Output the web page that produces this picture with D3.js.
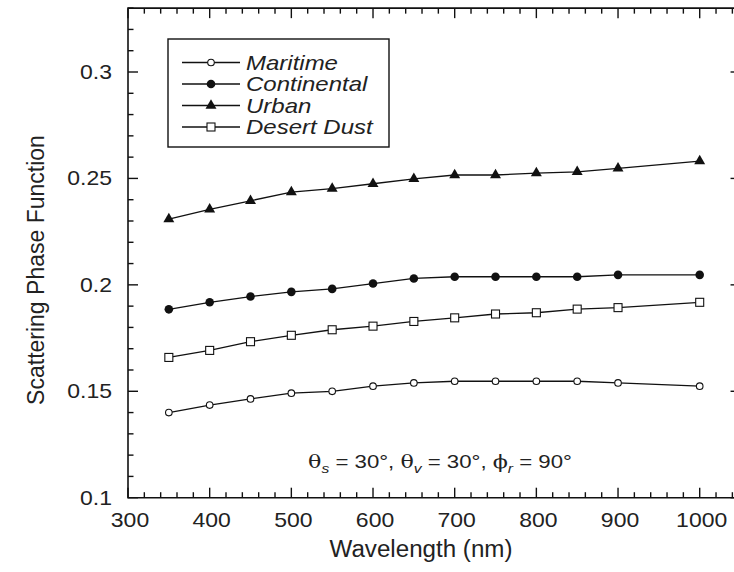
<!DOCTYPE html>
<html>
<head>
<meta charset="utf-8">
<script src="https://cdn.jsdelivr.net/npm/d3@7"></script>
<style>
  html, body { margin: 0; padding: 0; background: #fff; }
  svg { display: block; font-family: "Liberation Sans", Arial, Helvetica, sans-serif; }
</style>
</head>
<body>
<svg id="chart" width="734" height="572"></svg>
<script>
// Wavelengths (nm) at which the phase function was evaluated
const wavelengths = [350, 400, 450, 500, 550, 600, 650, 700, 750, 800, 850, 900, 1000];

// Scattering phase function per aerosol model
const maritime    = [0.1400, 0.1435, 0.1464, 0.1491, 0.1500, 0.1524, 0.1539, 0.1547, 0.1547, 0.1547, 0.1547, 0.1539, 0.1524];
const continental = [0.1885, 0.1918, 0.1945, 0.1967, 0.1981, 0.2006, 0.2030, 0.2038, 0.2038, 0.2038, 0.2038, 0.2047, 0.2047];
const urban       = [0.2309, 0.2355, 0.2395, 0.2436, 0.2452, 0.2475, 0.2498, 0.2516, 0.2516, 0.2525, 0.2531, 0.2547, 0.2581];
const desertDust  = [0.1659, 0.1692, 0.1733, 0.1763, 0.1789, 0.1806, 0.1828, 0.1845, 0.1863, 0.1869, 0.1886, 0.1893, 0.1918];

const seriesNames = ["Maritime", "Continental", "Urban", "Desert Dust"];
const seriesValues = [maritime, continental, urban, desertDust];
const markerKinds = ["openCircle", "filledCircle", "triangle", "openSquare"];

const xMajorTicks = [300, 400, 500, 600, 700, 800, 900, 1000];
const yMajorTicks = [0.1, 0.15, 0.2, 0.25, 0.3];

const svg = d3.select("#chart");
const plotLeft = 128, plotBottom = 497.7;

const x = d3.scaleLinear().domain([300, 1000]).range([plotLeft, 699.7]);
const y = d3.scaleLinear().domain([0.1, 0.3]).range([plotBottom, 72]);
const xMax = 1050, yMax = 0.33;
const plotRight = x(xMax);

const ink = "#111";
const labelColor = "#222";

// Text placed at (tx, ty) with a slight horizontal stretch, like wide Helvetica
function stretchedText(parent, tx, ty, sx) {
  const g = parent.append("g").attr("transform", `translate(${tx},${ty}) scale(${sx},1)`);
  return g.append("text").attr("fill", labelColor);
}

// Frame
svg.append("path")
  .attr("d", `M${plotRight},${y(yMax)} H${plotLeft} V${plotBottom} H${plotRight}`)
  .attr("fill", "none").attr("stroke", ink).attr("stroke-width", 1.6);

// Inward ticks on all sides
const xMinor = d3.range(300, xMax + 1, 20);
const yMinor = d3.range(10, 34, 1).map(v => v / 100);
const isMajorX = v => v % 100 === 0;
const isMajorY = v => Math.abs(Math.round(v * 100) % 5) === 0;

const tickG = svg.append("g").attr("stroke", ink).attr("stroke-width", 1.4);
xMinor.forEach(v => {
  const len = isMajorX(v) ? 10 : 5.5;
  tickG.append("line").attr("x1", x(v)).attr("x2", x(v)).attr("y1", plotBottom).attr("y2", plotBottom - len);
  tickG.append("line").attr("x1", x(v)).attr("x2", x(v)).attr("y1", y(yMax)).attr("y2", y(yMax) + len);
});
yMinor.forEach(v => {
  const len = isMajorY(v) ? 10 : 5.5;
  tickG.append("line").attr("x1", plotLeft).attr("x2", plotLeft + len).attr("y1", y(v)).attr("y2", y(v));
  tickG.append("line").attr("x1", plotRight).attr("x2", plotRight - len).attr("y1", y(v)).attr("y2", y(v));
});

// Tick labels
const tickFont = 20, tickStretch = 1.15;
xMajorTicks.forEach(d => {
  stretchedText(svg, x(d) + 2, 527, tickStretch)
    .attr("text-anchor", "middle").attr("font-size", tickFont).text(d);
});
yMajorTicks.forEach(d => {
  stretchedText(svg, 112, y(d) + 7, tickStretch)
    .attr("text-anchor", "end").attr("font-size", tickFont).text(d3.format("~g")(d));
});

// Axis titles
stretchedText(svg, 421, 557, 1.05)
  .attr("text-anchor", "middle").attr("font-size", 23).text("Wavelength (nm)");
svg.append("text").attr("transform", `translate(44,270) rotate(-90)`)
  .attr("text-anchor", "middle").attr("font-size", 23).attr("fill", labelColor)
  .text("Scattering Phase Function");

// Marker drawing
function drawMarker(g, kind, cx, cy) {
  if (kind === "openCircle") {
    g.append("circle").attr("cx", cx).attr("cy", cy).attr("r", 3.3)
      .attr("fill", "#fff").attr("stroke", ink).attr("stroke-width", 1.1);
  } else if (kind === "filledCircle") {
    g.append("circle").attr("cx", cx).attr("cy", cy).attr("r", 4.3).attr("fill", ink);
  } else if (kind === "triangle") {
    g.append("path").attr("d", d3.symbol(d3.symbolTriangle, 52)()).attr("transform", `translate(${cx},${cy})`).attr("fill", ink);
  } else {
    g.append("rect").attr("x", cx - 4).attr("y", cy - 4).attr("width", 8).attr("height", 8)
      .attr("fill", "#fff").attr("stroke", ink).attr("stroke-width", 1.1);
  }
}

const line = d3.line().x(d => x(d[0])).y(d => y(d[1]));
seriesValues.forEach((vals, i) => {
  const pts = wavelengths.map((w, j) => [w, vals[j]]);
  const g = svg.append("g");
  g.append("path").attr("d", line(pts)).attr("fill", "none").attr("stroke", ink).attr("stroke-width", 1.3);
  pts.forEach(p => drawMarker(g, markerKinds[i], x(p[0]), y(p[1])));
});

// Legend
const lg = svg.append("g");
lg.append("rect").attr("x", 168).attr("y", 39).attr("width", 221).attr("height", 108)
  .attr("fill", "#fff").attr("stroke", ink).attr("stroke-width", 1.4);
const rowY = [62.5, 84, 105.5, 127];
seriesNames.forEach((name, i) => {
  lg.append("line").attr("x1", 182).attr("x2", 240).attr("y1", rowY[i]).attr("y2", rowY[i])
    .attr("stroke", ink).attr("stroke-width", 1.3);
  drawMarker(lg, markerKinds[i], 211, rowY[i]);
  stretchedText(lg, 246, rowY[i] + 7, 1.2)
    .attr("font-size", 20).attr("font-style", "italic").text(name);
});

// Geometry annotation: solar zenith, view zenith, relative azimuth
const ann = stretchedText(svg, 440, 468, 1.2)
  .attr("text-anchor", "middle").attr("font-size", 18.5);
const parts = [["θ", "s", " = 30°, "], ["θ", "v", " = 30°, "], ["ϕ", "r", " = 90°"]];
parts.forEach(([sym, sub, rest]) => {
  ann.append("tspan").attr("font-family", "DejaVu Serif").text(sym);
  ann.append("tspan").attr("font-size", 13).attr("font-style", "italic").attr("dy", 5).text(sub);
  ann.append("tspan").attr("dy", -5).text(rest);
});
</script>
</body>
</html>
